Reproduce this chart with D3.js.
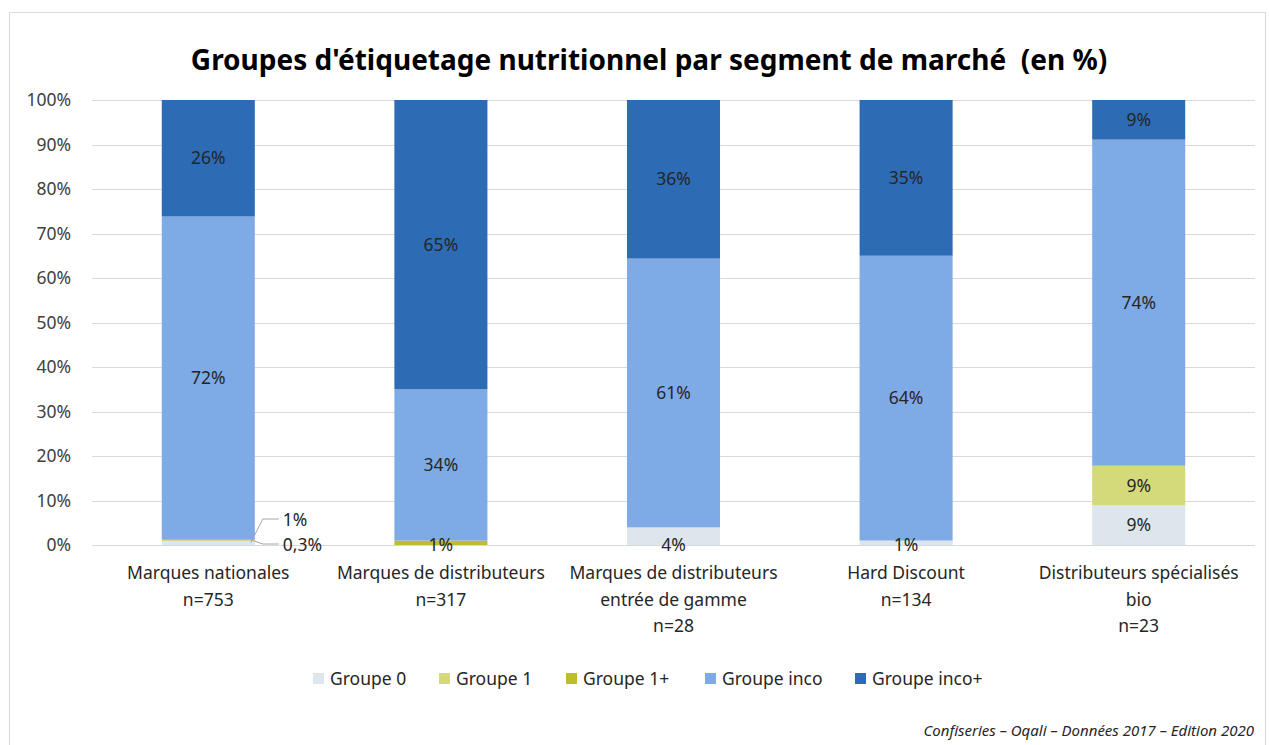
<!DOCTYPE html>
<html>
<head>
<meta charset="utf-8">
<script src="https://cdn.jsdelivr.net/npm/d3@7"></script>
<style>
  html, body { margin: 0; padding: 0; background: #fff; }
  svg { display: block; font-family: 'Noto Sans', 'Open Sans', sans-serif; }
</style>
</head>
<body>
<div id="chart"></div>
<script>
// categories (label lines)
const categories = [
  ['Marques nationales', 'n=753'],
  ['Marques de distributeurs', 'n=317'],
  ['Marques de distributeurs', 'entrée de gamme', 'n=28'],
  ['Hard Discount', 'n=134'],
  ['Distributeurs spécialisés', 'bio', 'n=23']
]
const seriesNames = ['Groupe 0', 'Groupe 1', 'Groupe 1+', 'Groupe inco', 'Groupe inco+']
const groupe0 = [1, 0, 4, 1, 9]
const groupe1 = [0, 0, 0, 0, 9]
const groupe1p = [0.3, 1, 0, 0, 0]
const groupeInco = [72, 34, 61, 64, 74]
const groupeIncoP = [26, 65, 36, 35, 9]
const yTicks = [0, 0.1, 0.2, 0.3, 0.4, 0.5, 0.6, 0.7, 0.8, 0.9, 1]
const colors = ['#dce6ec', '#d4da7a', '#bdbd2e', '#7eaae6', '#2d6bb5']

const width = 1269
const height = 745
const margin = { top: 100, right: 14, bottom: 200, left: 92 }
const fs = 17.5

const data = categories.map((c, i) => ({
  cat: i,
  'Groupe 0': groupe0[i],
  'Groupe 1': groupe1[i],
  'Groupe 1+': groupe1p[i],
  'Groupe inco': groupeInco[i],
  'Groupe inco+': groupeIncoP[i]
}))

const svg = d3.select('#chart').append('svg')
  .attr('width', width)
  .attr('height', height)

// chart frame
svg.append('rect')
  .attr('x', 9.5).attr('y', 12.5)
  .attr('width', 1256).attr('height', 740)
  .attr('fill', '#fff').attr('stroke', '#d9d9d9')

svg.append('text')
  .attr('x', 649).attr('y', 70)
  .attr('text-anchor', 'middle')
  .attr('font-size', 28).attr('font-weight', 'bold')
  .attr('fill', '#000')
  .style('white-space', 'pre')
  .text("Groupes d'étiquetage nutritionnel par segment de marché  (en %)")

const x = d3.scaleBand()
  .domain(d3.range(categories.length))
  .range([margin.left, width - margin.right])
  .paddingInner(0.6).paddingOuter(0.3)

const y = d3.scaleLinear()
  .domain([0, 1])
  .range([height - margin.bottom, margin.top])

// gridlines
svg.append('g')
  .selectAll('line')
  .data(yTicks)
  .join('line')
  .attr('x1', margin.left).attr('x2', width - margin.right)
  .attr('y1', d => Math.round(y(d)) + 0.5).attr('y2', d => Math.round(y(d)) + 0.5)
  .attr('stroke', '#d9d9d9')

const yAxis = svg.append('g')
  .attr('transform', `translate(${margin.left - 18},0)`)
  .call(d3.axisLeft(y).tickValues(yTicks).tickFormat(d3.format('.0%')).tickSize(0))
yAxis.select('.domain').remove()
yAxis.selectAll('text')
  .attr('font-size', fs).attr('fill', '#404040')
  .attr('font-family', "'Noto Sans', sans-serif")

const stack = d3.stack().keys(seriesNames).offset(d3.stackOffsetExpand)(data)

const plot = svg.append('g')
plot.selectAll('g')
  .data(stack)
  .join('g')
  .attr('fill', (d, i) => colors[i])
  .selectAll('rect')
  .data(d => d)
  .join('rect')
  .attr('x', d => x(d.data.cat))
  .attr('y', d => y(d[1]))
  .attr('height', d => y(d[0]) - y(d[1]))
  .attr('width', x.bandwidth())

// value labels
const fmt = v => String(v).replace('.', ',') + '%'
const labels = svg.append('g')
  .attr('font-size', fs).attr('fill', '#262626')
  .attr('text-anchor', 'middle')
stack.forEach(s => {
  s.forEach(d => {
    const v = d.data[s.key]
    if (!v) return
    const cx = x(d.data.cat) + x.bandwidth() / 2
    const h = y(d[0]) - y(d[1])
    if (h > 18) {
      labels.append('text')
        .attr('x', cx).attr('y', (y(d[0]) + y(d[1])) / 2 + 6)
        .text(fmt(v))
    } else if (d.data.cat !== 0) {
      labels.append('text')
        .attr('x', cx).attr('y', y(0) + 6)
        .text(fmt(v))
    }
  })
})

// leader labels for the first bar's small slices
const bx = x(0) + x.bandwidth()
const leaders = [
  { key: 'Groupe 0', ty: 520, ly: 519 },
  { key: 'Groupe 1+', ty: 545, ly: 544 }
]
leaders.forEach(l => {
  const s = stack.find(d => d.key === l.key)[0]
  const sy = (y(s[0]) + y(s[1])) / 2
  svg.append('path')
    .attr('d', `M${bx - 4},${sy} L${bx + 8},${l.ly} L${bx + 24},${l.ly}`)
    .attr('fill', 'none').attr('stroke', '#a6a6a6')
  svg.append('text')
    .attr('x', bx + 28).attr('y', l.ty + 6)
    .attr('font-size', fs).attr('fill', '#262626')
    .text(fmt(s.data[l.key]))
})

// category labels
const catG = svg.append('g')
  .attr('font-size', fs).attr('fill', '#262626')
  .attr('text-anchor', 'middle')
categories.forEach((lines, i) => {
  const t = catG.append('text')
    .attr('x', x(i) + x.bandwidth() / 2)
    .attr('y', 579)
  lines.forEach((ln, j) => {
    t.append('tspan')
      .attr('x', x(i) + x.bandwidth() / 2)
      .attr('dy', j === 0 ? 0 : 26.5)
      .text(ln)
  })
})

// legend
const legendX = [313, 439, 566, 705, 855]
const legend = svg.append('g')
seriesNames.forEach((name, i) => {
  legend.append('rect')
    .attr('x', legendX[i]).attr('y', 673)
    .attr('width', 11).attr('height', 11)
    .attr('fill', colors[i])
  legend.append('text')
    .attr('x', legendX[i] + 17).attr('y', 685)
    .attr('font-size', fs).attr('fill', '#262626')
    .text(name)
})

svg.append('text')
  .attr('x', 1254).attr('y', 736)
  .attr('text-anchor', 'end')
  .attr('font-size', 15).attr('font-style', 'italic')
  .attr('fill', '#262626')
  .text('Confiseries – Oqali – Données 2017 – Edition 2020')
</script>
</body>
</html>
